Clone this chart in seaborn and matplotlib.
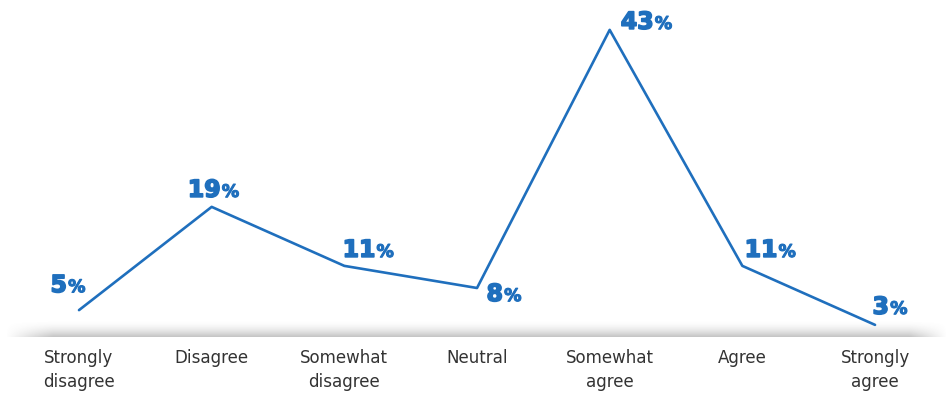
import numpy as np
import pandas as pd
import matplotlib
matplotlib.use("Agg")
import matplotlib.pyplot as plt
import matplotlib.patheffects as pe
import seaborn as sns

categories = ["Strongly\ndisagree", "Disagree", "Somewhat\ndisagree", "Neutral",
              "Somewhat\nagree", "Agree", "Strongly\nagree"]
values = [5, 19, 11, 8, 43, 11, 3]
# label offsets in pixels (dx, dy) relative to the data point
label_dx = [-12, 9, 31, 26, 44, 35, 14]
label_dy = [25, 17, 16, -6, 8, 16, 18]

sns.set_theme(style="white")
plt.rcParams['font.family'] = ['DejaVu Sans']

BLUE = "#1f6fbd"
W, H = 948, 393
fig = plt.figure(figsize=(W / 100, H / 100), dpi=100)
ax_bottom_px = 337
ax = fig.add_axes([0, (H - ax_bottom_px) / H, 1, ax_bottom_px / H])

df = pd.DataFrame({"idx": np.arange(len(values)), "value": values})
sns.lineplot(data=df, x="idx", y="value", ax=ax, color=BLUE, linewidth=1.9)

px_per_unit = 7.375
zero_px = 347
ax.set_ylim((zero_px - ax_bottom_px) / px_per_unit, zero_px / px_per_unit)
step = 132.67
x0 = 79
ax.set_xlim(-x0 / step, (W - x0) / step)

ax.set_xticks(np.arange(len(categories)))
ax.set_xticklabels(categories, fontsize=13.3, color="#333333", linespacing=1.42,
                   fontstretch="condensed")
ax.tick_params(axis="x", length=0, pad=8.5)
ax.set_yticks([])
ax.set_xlabel("")
ax.set_ylabel("")
for s in ax.spines.values():
    s.set_visible(False)
ax.patch.set_alpha(0)

# value labels: large number + smaller percent sign
stroke = [pe.withStroke(linewidth=1.2, foreground=BLUE)]
for i, v in enumerate(values):
    pts = (label_dx[i] * 0.72, label_dy[i] * 0.72)
    ax.annotate(str(v), (i, v), xytext=pts, textcoords="offset points",
                ha="right", va="center", fontsize=17, fontweight="bold",
                color=BLUE, path_effects=stroke)
    ax.annotate("%", (i, v), xytext=(pts[0] + 0.8, pts[1] - 1.5), textcoords="offset points",
                ha="left", va="center", fontsize=12.5, fontweight="bold",
                color=BLUE, path_effects=[pe.withStroke(linewidth=0.8, foreground=BLUE)])

# grey shadow band above the category labels
sh = fig.add_axes([5 / W, (H - 337) / H, 943 / W, 17 / H])
rows, cols = 34, 400
yy = np.linspace(0, 1, rows)[:, None]          # 0 top -> 1 bottom
xx = np.linspace(0, 1, cols)[None, :]
vert = yy ** 1.8
horiz = np.clip(np.minimum(xx / 0.05, (1 - xx) / 0.04), 0, 1)
alpha = 0.42 * vert * horiz
img = np.zeros((rows, cols, 4))
img[..., :3] = 0.45
img[..., 3] = alpha
sh.imshow(img, aspect="auto", extent=(0, 1, 0, 1), interpolation="bilinear")
sh.set_axis_off()
ax.set_zorder(2)

fig.savefig("out.png", dpi=100)
